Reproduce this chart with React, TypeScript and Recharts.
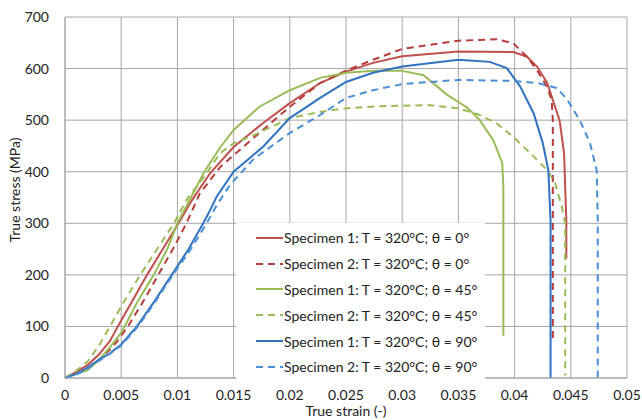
import React from 'react';
import { LineChart, Line, XAxis, YAxis, CartesianGrid, Legend } from 'recharts';

// strain (-), stress (MPa)
const s1deg0 = [
  [0, 0], [0.001, 12], [0.002, 25], [0.003, 45], [0.004, 72], [0.0047, 100], [0.006, 150],
  [0.0073, 200], [0.0087, 250], [0.0101, 300], [0.0113, 345], [0.0129, 397], [0.015, 448],
  [0.0176, 494], [0.02, 533], [0.0227, 572], [0.025, 594], [0.0274, 611], [0.03, 624],
  [0.035, 633], [0.0399, 632], [0.0411, 623], [0.042, 604], [0.0429, 572], [0.0434, 539],
  [0.044, 500], [0.0444, 436], [0.0446, 306], [0.0446, 231],
];
const s2deg0 = [
  [0, 0], [0.001, 8], [0.002, 18], [0.003, 35], [0.004, 55], [0.0046, 70], [0.0056, 100],
  [0.007, 150], [0.0083, 200], [0.0096, 250], [0.0108, 300], [0.012, 358], [0.0138, 409],
  [0.015, 432], [0.0176, 481], [0.02, 526], [0.0227, 572], [0.025, 596], [0.0274, 617],
  [0.03, 638], [0.035, 654], [0.0384, 657], [0.0399, 649], [0.0411, 623], [0.042, 597],
  [0.0429, 564], [0.0433, 539], [0.0434, 500], [0.0434, 300], [0.0434, 69],
];
const s1deg45 = [
  [0, 0], [0.001, 8], [0.002, 15], [0.003, 35], [0.004, 60], [0.005, 88], [0.0053, 100],
  [0.0065, 150], [0.0079, 200], [0.0091, 250], [0.01, 300], [0.0124, 400], [0.0138, 447],
  [0.015, 481], [0.0173, 526], [0.02, 558], [0.0227, 582], [0.025, 592], [0.0275, 596],
  [0.0299, 596], [0.0319, 587], [0.034, 549], [0.0358, 524], [0.0369, 500], [0.0381, 461],
  [0.0389, 417], [0.039, 371], [0.039, 82],
];
const s2deg45 = [
  [0, 0], [0.001, 14], [0.002, 32], [0.003, 62], [0.004, 100], [0.0053, 150], [0.0067, 200],
  [0.0082, 250], [0.0097, 300], [0.0108, 345], [0.0126, 397], [0.0138, 436], [0.015, 455],
  [0.0168, 471], [0.02, 504], [0.0227, 516], [0.025, 523], [0.028, 527], [0.0325, 529],
  [0.035, 523], [0.0369, 510], [0.0384, 494], [0.0399, 467], [0.0414, 436], [0.0429, 403],
  [0.0436, 378], [0.0442, 332], [0.0445, 300], [0.0445, 5],
];
const s1deg90 = [
  [0, 0], [0.001, 8], [0.002, 20], [0.003, 35], [0.004, 48], [0.005, 65], [0.0064, 100],
  [0.008, 150], [0.0095, 200], [0.011, 250], [0.0123, 300], [0.0129, 325], [0.0135, 352],
  [0.015, 400], [0.0176, 448], [0.02, 504], [0.0227, 543], [0.025, 574], [0.0274, 592],
  [0.03, 604], [0.035, 617], [0.0378, 613], [0.0393, 601], [0.0405, 565], [0.0417, 513],
  [0.0425, 456], [0.043, 403], [0.0432, 306], [0.0432, 0],
];
const s2deg90 = [
  [0, 0], [0.001, 6], [0.002, 18], [0.003, 33], [0.004, 47], [0.005, 63], [0.0065, 100],
  [0.0081, 150], [0.0096, 200], [0.0112, 250], [0.0126, 300], [0.0135, 335], [0.0147, 375],
  [0.0168, 425], [0.02, 475], [0.0227, 510], [0.025, 543], [0.0274, 558], [0.03, 570],
  [0.035, 578], [0.0399, 576], [0.042, 572], [0.0438, 562], [0.0447, 539], [0.0458, 500],
  [0.0467, 456], [0.0473, 403], [0.0474, 306], [0.0474, 0],
];

const xTicks = [0, 0.005, 0.01, 0.015, 0.02, 0.025, 0.03, 0.035, 0.04, 0.045, 0.05];
const yTicks = [0, 100, 200, 300, 400, 500, 600, 700];

const series = [
  { name: 'Specimen 1: T = 320°C; θ = 0°', points: s1deg0, color: '#c0504d', dash: '' },
  { name: 'Specimen 2: T = 320°C; θ = 0°', points: s2deg0, color: '#b83c3c', dash: '7 5' },
  { name: 'Specimen 1: T = 320°C; θ = 45°', points: s1deg45, color: '#9bbb59', dash: '' },
  { name: 'Specimen 2: T = 320°C; θ = 45°', points: s2deg45, color: '#9bbb59', dash: '7 5' },
  { name: 'Specimen 1: T = 320°C; θ = 90°', points: s1deg90, color: '#2f72c0', dash: '' },
  { name: 'Specimen 2: T = 320°C; θ = 90°', points: s2deg90, color: '#4a8fd6', dash: '7 5' },
];

const font = 'Lato, Calibri, sans-serif';
const gridColor = '#a6a6a6';
const textColor = '#222';

const LegendBox = () => (
  <div style={{ background: '#fff', padding: '2px 8px 2px 20px', fontFamily: font, fontSize: 14, color: textColor }}>
    {series.map((s) => (
      <div key={s.name} style={{ display: 'flex', alignItems: 'center', height: 25.8, whiteSpace: 'nowrap' }}>
        <svg width={27} height={4} style={{ marginRight: 1 }}>
          <line x1={0} y1={2} x2={27} y2={2} stroke={s.color} strokeWidth={2} strokeDasharray={s.dash || undefined} />
        </svg>
        <span>{s.name}</span>
      </div>
    ))}
  </div>
);

export default function App() {
  return (
    <div style={{ position: 'absolute', left: 0, top: 0, width: 642, height: 420, background: '#fff' }}>
      <LineChart width={642} height={420} margin={{ top: 17, right: 15, left: 15, bottom: 12 }}>
        <CartesianGrid stroke={gridColor} strokeWidth={1} />
        <XAxis
          type="number"
          dataKey="x"
          domain={[0, 0.05]}
          ticks={xTicks}
          tickLine={false}
          axisLine={{ stroke: gridColor }}
          tick={{ fill: textColor, fontSize: 14, fontFamily: font }}
          tickMargin={6}
          height={30}
          label={{ value: 'True strain (-)', position: 'insideBottom', offset: -8, fill: textColor, fontSize: 14, fontFamily: font }}
        />
        <YAxis
          type="number"
          domain={[0, 700]}
          ticks={yTicks}
          tickLine={false}
          axisLine={{ stroke: gridColor }}
          tick={{ fill: textColor, fontSize: 14, fontFamily: font }}
          tickMargin={10}
          width={50}
          label={{ value: 'True stress (MPa)', angle: -90, position: 'insideLeft', offset: 0, dy: 45, fill: textColor, fontSize: 14, fontFamily: font }}
        />
        <Legend
          layout="vertical"
          align="center"
          verticalAlign="middle"
          content={<LegendBox />}
          wrapperStyle={{ position: 'absolute', left: 236, top: 223, width: 'auto', height: 'auto' }}
        />
        {series.map((s) => (
          <Line
            key={s.name}
            name={s.name}
            data={s.points.map(([x, y]) => ({ x, y }))}
            dataKey="y"
            type="linear"
            stroke={s.color}
            strokeWidth={2}
            strokeDasharray={s.dash || undefined}
            dot={false}
            activeDot={false}
            isAnimationActive={false}
          />
        ))}
      </LineChart>
    </div>
  );
}
